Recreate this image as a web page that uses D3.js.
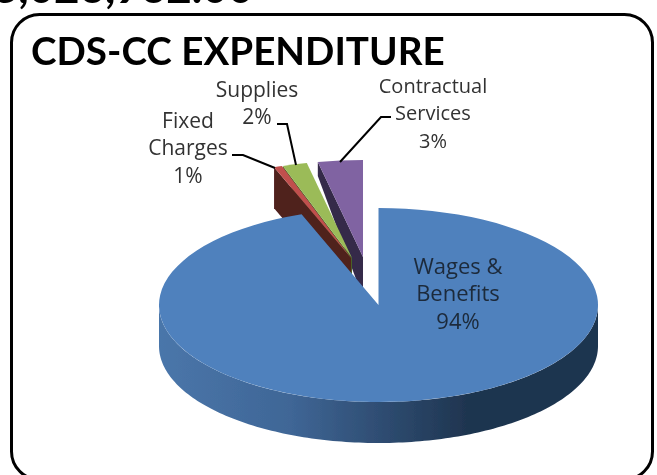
<!DOCTYPE html>
<html>
<head>
<meta charset="utf-8">
<script src="https://cdn.jsdelivr.net/npm/d3@7"></script>
<style>
  html, body { margin: 0; padding: 0; background: white; }
  svg { display: block; }
</style>
</head>
<body>
<div id="chart"></div>
<script>
  let categories = ["Wages & Benefits", "Fixed Charges", "Supplies", "Contractual Services"];
  let values = [94.3, 0.6, 1.8, 3.3];
  let percentLabels = ["94%", "1%", "2%", "3%"];
  let topColors = ["#4f81bd", "#c0504d", "#9bbb59", "#8064a2"];
  let wallColors = ["#1f3550", "#4f201e", "#4c6128", "#35294a"];
  let titleText = "CDS-CC EXPENDITURE";
  let cutOffText = "3,026,962.00";

  let w = 657;
  let h = 475;
  let rx = 219.5;
  let ry = 97;
  let depth = 41;

  // centre of each slice after pulling it out of the pie
  let centers = [[378.5, 305], [351, 258], [352, 258], [363, 257]];
  let outerDepth = [41, 41, 6, 14];

  let viz = d3.select("#chart")
    .append("svg")
      .attr("width", w)
      .attr("height", h)
      .style("background-color", "white")
  ;

  let defs = viz.append("defs");
  let grad = defs.append("linearGradient")
      .attr("id", "sideBlue")
      .attr("gradientUnits", "userSpaceOnUse")
      .attr("x1", 159).attr("x2", 598).attr("y1", 0).attr("y2", 0);
  grad.selectAll("stop")
    .data([[0, "#4a76aa"], [0.3, "#3f6696"], [0.7, "#1f3550"], [1, "#1f3550"]])
    .enter().append("stop")
      .attr("offset", d => d[0])
      .attr("stop-color", d => d[1]);

  let soft = defs.append("filter").attr("id", "soft");
  soft.append("feGaussianBlur").attr("stdDeviation", 0.45);

  // text cut off by the top of the picture
  viz.append("text")
      .attr("x", 123)
      .attr("y", 3)
      .attr("text-anchor", "middle")
      .style("font-family", "Lato")
      .style("font-size", "44px")
      .style("font-weight", "bold")
      .style("fill", "black")
      .attr("filter", "url(#soft)")
      .text(cutOffText);

  // frame
  viz.append("rect")
      .attr("x", 11.5)
      .attr("y", 14.5)
      .attr("width", 641)
      .attr("height", 465)
      .attr("rx", 28)
      .style("fill", "white")
      .style("stroke", "black")
      .style("stroke-width", 3);

  viz.append("text")
      .attr("x", 31)
      .attr("y", 65)
      .style("font-family", "Lato")
      .style("font-weight", "bold")
      .style("font-size", "38.6px")
      .style("fill", "black")
      .attr("filter", "url(#soft)")
      .text(titleText);

  let pie = d3.pie().sort(null).value(d => d);
  let slices = pie(values);
  let arc = d3.arc().innerRadius(0).outerRadius(rx);

  function px(i, a) { return centers[i][0] + rx * Math.sin(a); }
  function py(i, a) { return centers[i][1] - ry * Math.cos(a); }

  let pies = viz.append("g").attr("filter", "url(#soft)");

  // pulled out slices back to front, blue one last so it covers their walls
  [3, 2, 1].forEach(function(i){
    let a = slices[i].startAngle;
    let c = centers[i];
    pies.append("path")
        .attr("d", d3.line()([
          [px(i, a), py(i, a)],
          [px(i, a), py(i, a) + outerDepth[i]],
          [c[0], c[1] + depth],
          [c[0], c[1]]
        ]) + "Z")
        .style("fill", wallColors[i]);
    pies.append("path")
        .attr("d", arc(slices[i]))
        .attr("transform", `translate(${c[0]},${c[1]}) scale(1,${ry / rx})`)
        .style("fill", topColors[i]);
  });

  // side of the big slice, only the front half shows
  let front = d3.range(Math.PI / 2, 3 * Math.PI / 2 + 0.01, 0.02);
  let side = d3.area()
      .x(a => px(0, a))
      .y0(a => py(0, a))
      .y1(a => py(0, a) + depth);
  pies.append("path")
      .attr("d", side(front))
      .style("fill", "url(#sideBlue)");

  pies.append("path")
      .attr("d", arc(slices[0]))
      .attr("transform", `translate(${centers[0][0]},${centers[0][1]}) scale(1,${ry / rx})`)
      .style("fill", topColors[0]);

  // leader lines
  let leaders = [
    [[232, 155], [243, 155], [275, 168]],
    [[277, 124], [287, 124], [296, 165]],
    [[391, 117], [381, 117], [340, 162]]
  ];
  viz.selectAll(".leader")
    .data(leaders)
    .enter()
    .append("path")
      .attr("class", "leader")
      .attr("d", d3.line())
      .style("fill", "none")
      .style("stroke", "black")
      .style("stroke-width", 2);

  // data labels, line by line
  let labelLines = [
    { x: 458, y: 274, size: 22, lines: ["Wages &", "Benefits", percentLabels[0]], color: "#1c2a3a" },
    { x: 188, y: 128, size: 21, lines: ["Fixed", "Charges", percentLabels[1]], color: "#333" },
    { x: 257, y: 97, size: 21, lines: ["Supplies", percentLabels[2]], color: "#333" },
    { x: 433, y: 93, size: 20, lines: ["Contractual", "Services", percentLabels[3]], color: "#333" }
  ];
  labelLines.forEach(function(l){
    viz.append("g").selectAll("text")
      .data(l.lines)
      .enter()
      .append("text")
        .attr("x", l.x)
        .attr("y", (d, i) => l.y + i * 27.3)
        .attr("text-anchor", "middle")
        .style("font-family", "Open Sans")
        .style("font-size", l.size + "px")
        .style("fill", l.color)
        .attr("filter", "url(#soft)")
        .text(d => d);
  });
</script>
</body>
</html>
